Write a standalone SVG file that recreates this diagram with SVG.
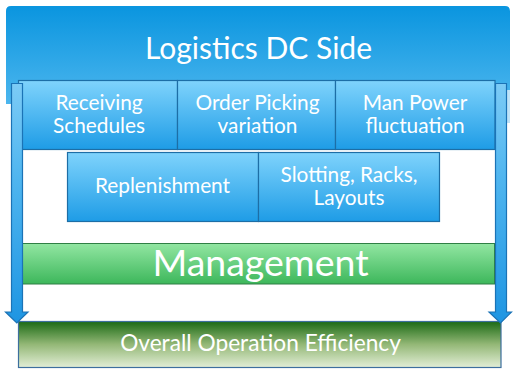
<svg xmlns="http://www.w3.org/2000/svg" width="516" height="377" viewBox="0 0 516 377">
<defs>
<linearGradient id="gBanner" x1="0" y1="0" x2="0" y2="1">
<stop offset="0" stop-color="#0a95df"/>
<stop offset="1" stop-color="#4cb6ee"/>
</linearGradient>
<linearGradient id="gBox" x1="0" y1="0" x2="0" y2="1">
<stop offset="0" stop-color="#7fd3fc"/>
<stop offset="1" stop-color="#1e9ce6"/>
</linearGradient>
<linearGradient id="gArrow" x1="0" y1="0" x2="0" y2="1">
<stop offset="0" stop-color="#7ccbf6"/>
<stop offset="0.4" stop-color="#4fb5ef"/>
<stop offset="1" stop-color="#1e95e2"/>
</linearGradient>
<linearGradient id="gMgmt" x1="0" y1="0" x2="0" y2="1">
<stop offset="0" stop-color="#92e6a2"/>
<stop offset="1" stop-color="#3db75b"/>
</linearGradient>
<linearGradient id="gOverall" x1="0" y1="0" x2="0" y2="1">
<stop offset="0" stop-color="#1b6a15"/>
<stop offset="0.5" stop-color="#94b877"/>
<stop offset="1" stop-color="#e2eed6"/>
</linearGradient>
</defs>
<style>
.box{fill:url(#gBox);stroke:#1d6ea6;stroke-width:1.2}
.arrow{fill:url(#gArrow);stroke:#1b73b6;stroke-width:1.2}
.t{font-family:Lato,"Open Sans","Liberation Sans",sans-serif;fill:#ffffff;text-anchor:middle}
.bt{font-size:20.8px}
</style>
<g id="banner">
<path d="M6,104 V11 Q6,6 11,6 H505 Q510,6 510,11 V104 Z" fill="url(#gBanner)"/>
<rect x="506" y="90" width="4" height="33" fill="#bfe3f8"/>
<text class="t" x="258.5" y="59" font-size="30">Logistics DC Side</text>
</g>
<g id="receiving">
<rect class="box" x="18.5" y="80.5" width="159" height="69"/>
<text class="t bt" x="99" y="110">Receiving</text>
<text class="t bt" x="99" y="133">Schedules</text>
</g>
<g id="order-picking">
<rect class="box" x="177.5" y="80.5" width="158" height="69"/>
<text class="t bt" x="257.5" y="110">Order Picking</text>
<text class="t bt" x="257.5" y="133">variation</text>
</g>
<g id="man-power">
<rect class="box" x="335.5" y="80.5" width="159.5" height="69"/>
<text class="t bt" x="415" y="110">Man Power</text>
<text class="t bt" x="415" y="133">fluctuation</text>
</g>
<g id="replenishment">
<rect class="box" x="67.5" y="152.5" width="191" height="69"/>
<text class="t bt" x="162.5" y="193">Replenishment</text>
</g>
<g id="slotting">
<rect class="box" x="258.5" y="152.5" width="181" height="69"/>
<text class="t bt" x="349" y="182">Slotting, Racks,</text>
<text class="t bt" x="349" y="205">Layouts</text>
</g>
<g id="management">
<rect x="22.5" y="243.5" width="472" height="40.5" fill="url(#gMgmt)" stroke="#2f7f45" stroke-width="1"/>
<text class="t" x="260.5" y="276" font-size="37.5">Management</text>
</g>
<g id="overall">
<rect x="18.5" y="321.5" width="482.5" height="46" fill="url(#gOverall)" stroke="#3d6f9e" stroke-width="1.2"/>
<text class="t" x="260.5" y="351" font-size="22.7">Overall Operation Efficiency</text>
</g>
<g id="connectors">
<path class="arrow" d="M11.5,83.5 H22.5 V312 H28 L16.8,323 L5.5,312 H11.5 Z"/>
<path class="arrow" d="M495.5,83.5 H506.5 V312 H511.5 L500.5,323 L489,312 H495.5 Z"/>
</g>
</svg>
